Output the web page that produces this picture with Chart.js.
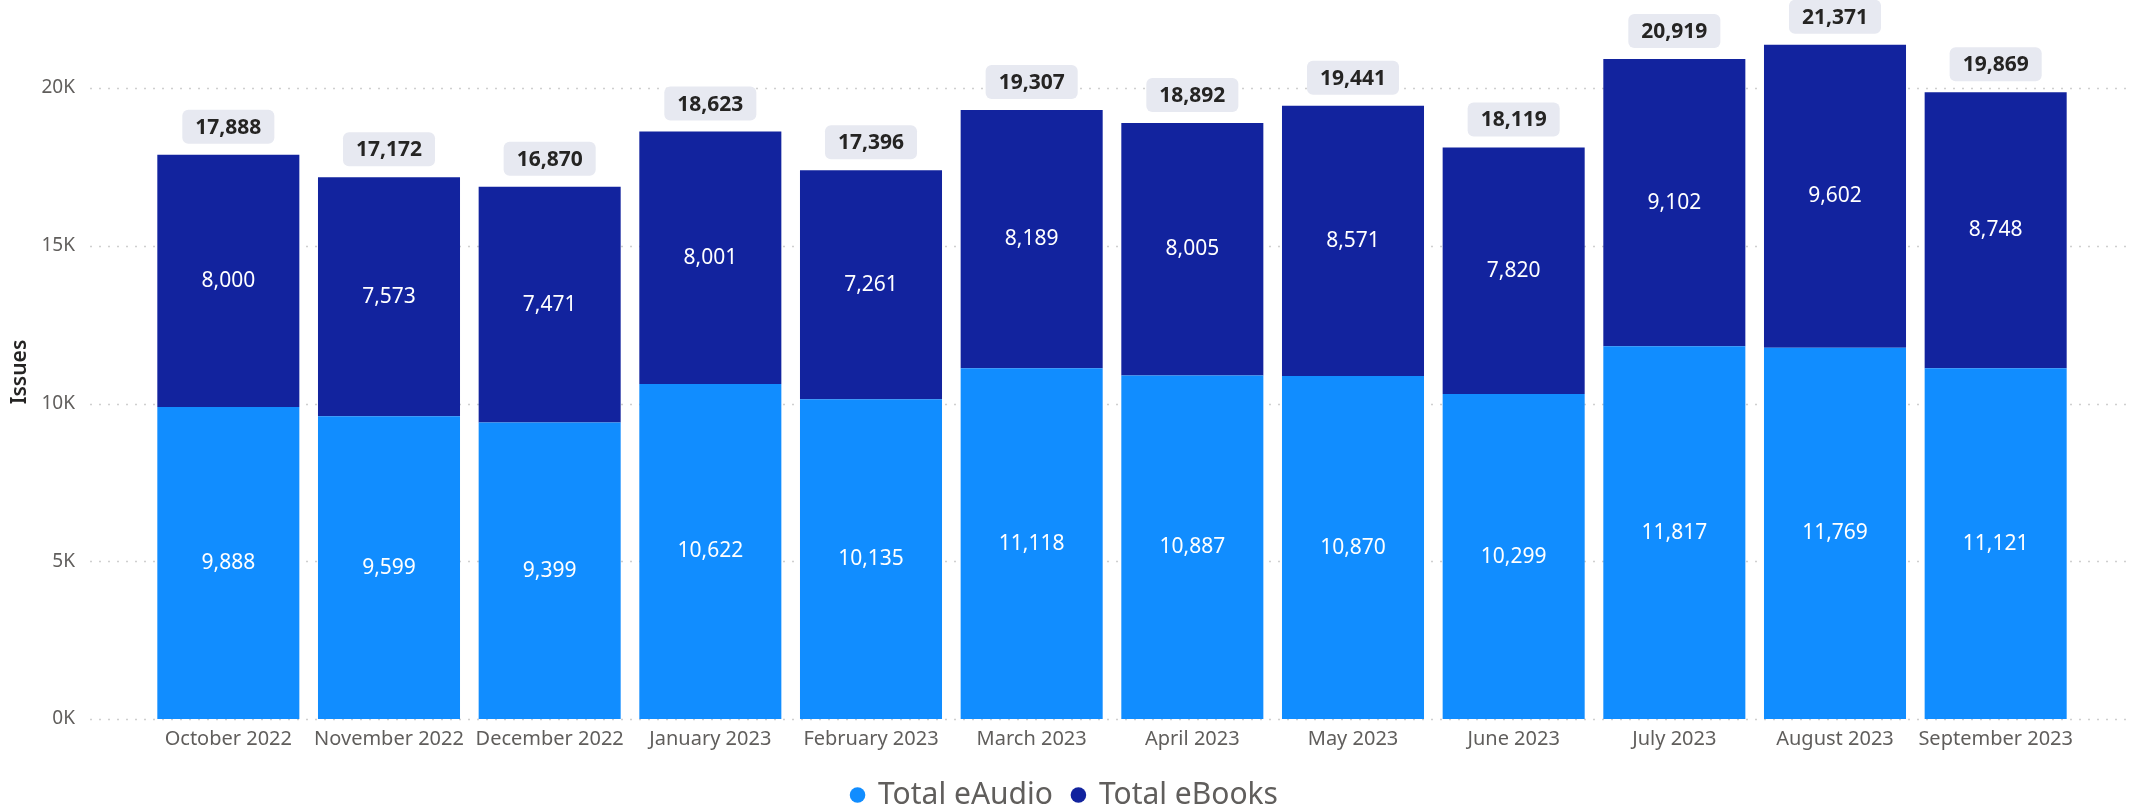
<!DOCTYPE html>
<html>
<head>
<meta charset="utf-8">
<title>Issues by month</title>
<script src="https://cdn.jsdelivr.net/npm/chart.js@4.4.0/dist/chart.umd.min.js"></script>
<style>
  html, body { margin: 0; padding: 0; background: #ffffff; }
  #issues-chart { display: block; }
</style>
</head>
<body>
<canvas id="issues-chart" width="2142" height="808"></canvas>
<script>
// Monthly issues, split by format
const months = ['October 2022', 'November 2022', 'December 2022', 'January 2023', 'February 2023', 'March 2023',
	'April 2023', 'May 2023', 'June 2023', 'July 2023', 'August 2023', 'September 2023'];
const eAudio = [9888, 9599, 9399, 10622, 10135, 11118, 10887, 10870, 10299, 11817, 11769, 11121];
const eBooks = [8000, 7573, 7471, 8001, 7261, 8189, 8005, 8571, 7820, 9102, 9602, 8748];
const yTicks = [0, 5000, 10000, 15000, 20000];
const yTickLabels = ['0K', '5K', '10K', '15K', '20K'];

const FONT = '"Segoe UI", "Noto Sans", sans-serif';
const fmt = (n) => n.toLocaleString('en-US');

// Dotted horizontal gridlines, running a bit past the plot area on both sides
const dottedGrid = {
	id: 'dottedGrid',
	beforeDatasetsDraw(chart) {
		const { ctx, chartArea, scales } = chart;
		ctx.save();
		ctx.strokeStyle = '#cfcfcf';
		ctx.lineWidth = 1.5;
		ctx.setLineDash([2, 7]);
		yTicks.forEach(function (v) {
			const py = Math.round(scales.y.getPixelForValue(v)) + 0.5;
			ctx.beginPath();
			ctx.moveTo(chartArea.left - 58, py);
			ctx.lineTo(chartArea.right + 54, py);
			ctx.stroke();
		});
		ctx.restore();
	}
};

// Segment values inside the bars, totals in a grey pill above each stack
const barLabels = {
	id: 'barLabels',
	afterDatasetsDraw(chart) {
		const ctx = chart.ctx;
		ctx.save();
		ctx.textAlign = 'center';
		ctx.textBaseline = 'middle';
		ctx.font = '21px ' + FONT;
		ctx.fillStyle = '#ffffff';
		chart.data.datasets.forEach(function (ds, i) {
			chart.getDatasetMeta(i).data.forEach(function (bar, j) {
				ctx.fillText(fmt(ds.data[j]), bar.x, (bar.y + bar.base) / 2);
			});
		});

		const tops = chart.getDatasetMeta(chart.data.datasets.length - 1).data;
		ctx.font = 'bold 21px ' + FONT;
		tops.forEach(function (bar, j) {
			const total = eAudio[j] + eBooks[j];
			const text = fmt(total);
			const w = ctx.measureText(text).width + 26;
			const h = 34;
			const cy = chart.scales.y.getPixelForValue(total) - 11 - h / 2;
			ctx.fillStyle = '#e7e9f1';
			ctx.beginPath();
			ctx.roundRect(bar.x - w / 2, cy - h / 2, w, h, 6);
			ctx.fill();
			ctx.fillStyle = '#252423';
			ctx.fillText(text, bar.x, cy + 1);
		});
		ctx.restore();
	}
};

new Chart(document.getElementById('issues-chart'), {
	type: 'bar',
	data: {
		labels: months,
		datasets: [
			{ label: 'Total eAudio', data: eAudio, backgroundColor: '#118DFF' },
			{ label: 'Total eBooks', data: eBooks, backgroundColor: '#12239E' }
		]
	},
	options: {
		responsive: false,
		animation: false,
		devicePixelRatio: 1,
		layout: { padding: { top: 25, left: 3, right: 15, bottom: -12 } },
		datasets: { bar: { barPercentage: 0.884, categoryPercentage: 1, borderWidth: 0 } },
		plugins: {
			legend: {
				position: 'bottom',
				labels: {
					usePointStyle: true,
					pointStyle: 'circle',
					boxWidth: 11,
					boxHeight: 11,
					padding: 20,
					color: '#605e5c',
					font: { size: 30, family: FONT }
				}
			},
			tooltip: { enabled: false }
		},
		scales: {
			x: {
				stacked: true,
				grid: { display: false, drawTicks: false },
				border: { display: false },
				ticks: { padding: 8, color: '#605e5c', font: { size: 20, family: FONT }, maxRotation: 0, autoSkip: false },
				afterFit: function (s) { s.height = 41; }
			},
			y: {
				stacked: true,
				min: 0,
				max: 22000,
				grid: { display: false, drawTicks: false },
				border: { display: false },
				afterBuildTicks: function (s) { s.ticks = yTicks.map(v => ({ value: v })); },
				ticks: {
					padding: 73,
					color: '#605e5c',
					font: { size: 19, family: FONT },
					callback: (v, i) => yTickLabels[i]
				},
				title: {
					display: true,
					text: 'Issues',
					color: '#252423',
					font: { size: 21, weight: '600', family: FONT },
					padding: { top: 4, bottom: 0 }
				},
				// wide label gap, but keep it from eating into the plot height
				afterFit: function (s) {
					s.width = 145;
					s.paddingTop = 0;
					s.paddingBottom = 0;
				}
			},
			// empty right-hand gutter
			yRight: {
				position: 'right',
				grid: { display: false, drawTicks: false },
				border: { display: false },
				ticks: { display: false },
				afterFit: function (s) { s.width = 51; }
			}
		}
	},
	plugins: [dottedGrid, barLabels]
});
</script>
</body>
</html>
